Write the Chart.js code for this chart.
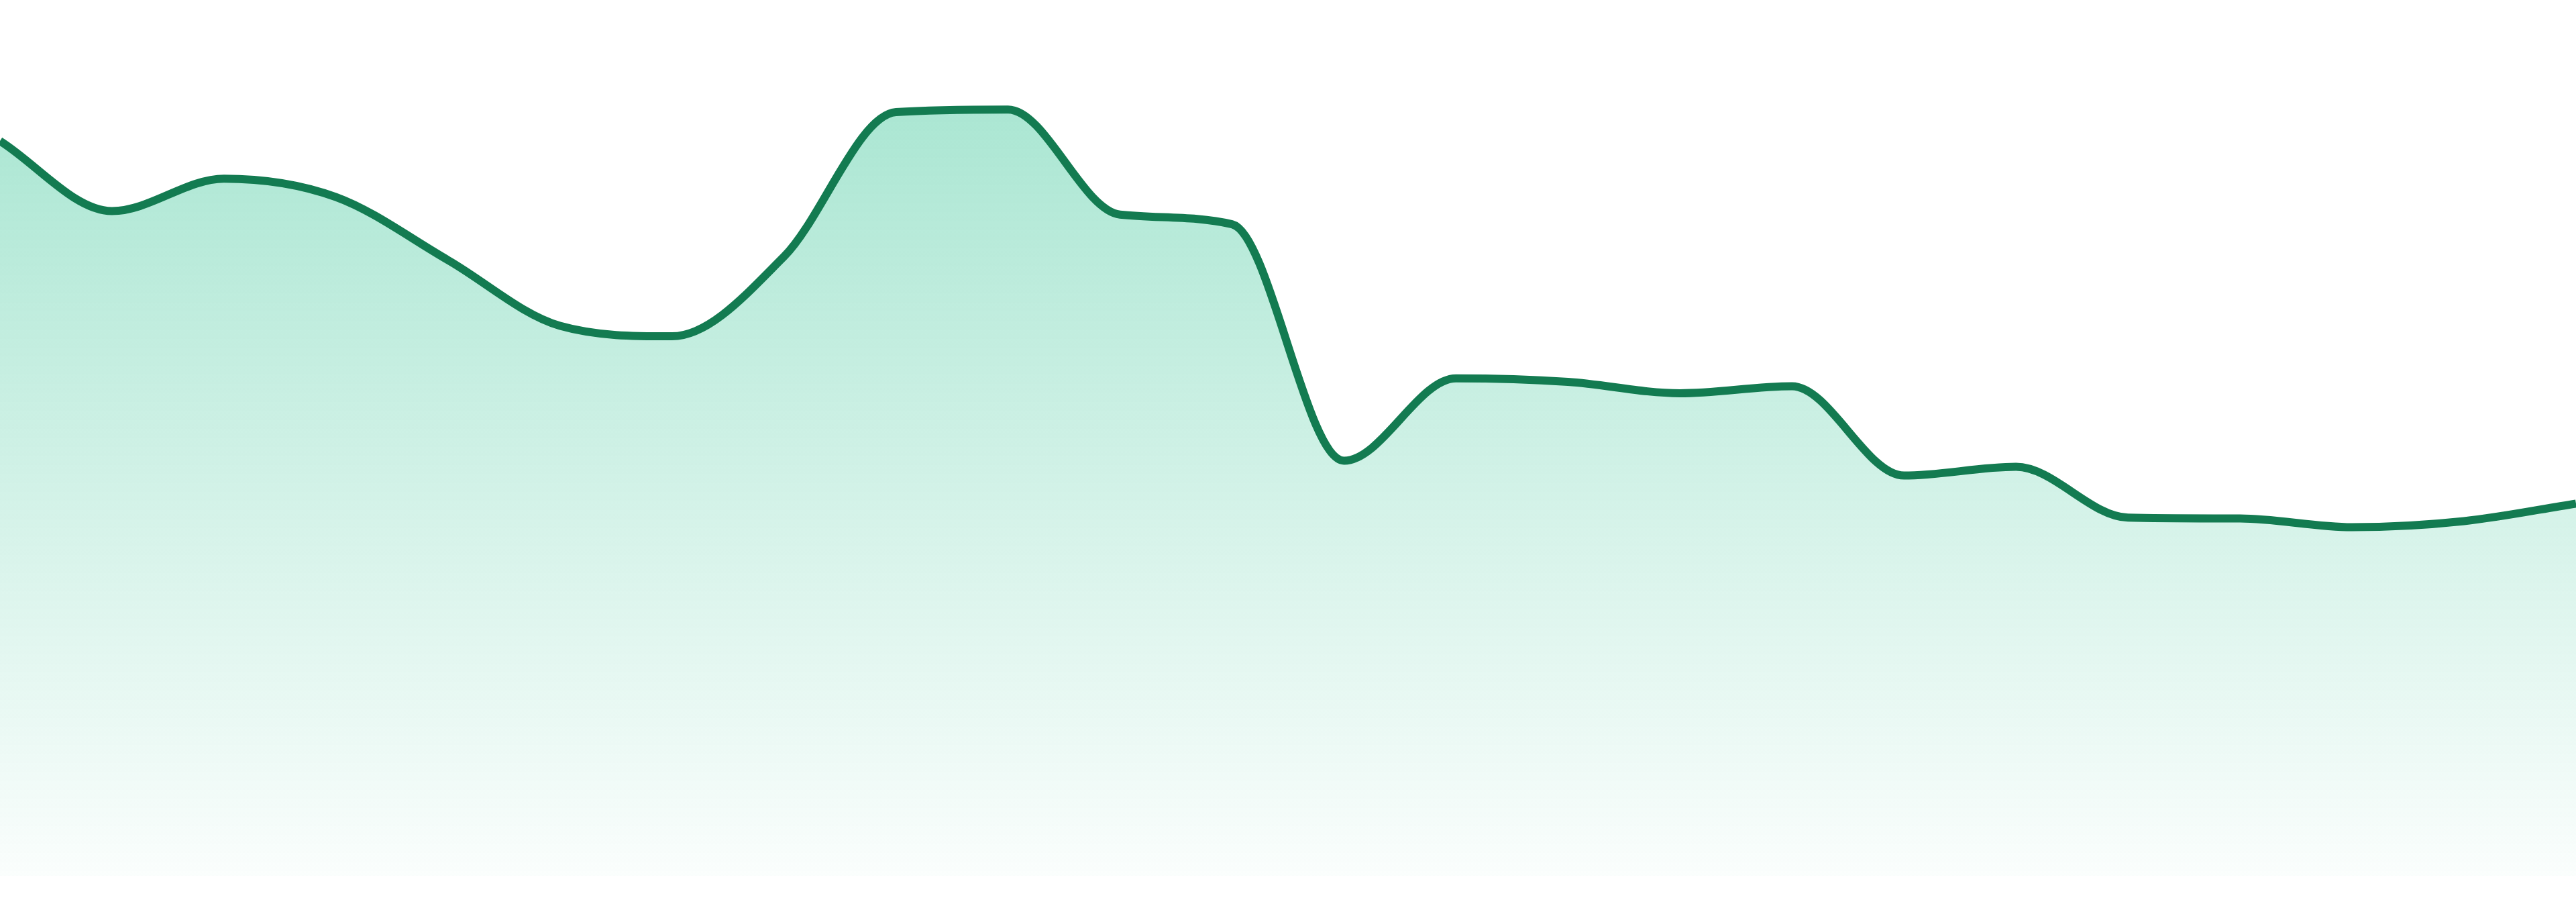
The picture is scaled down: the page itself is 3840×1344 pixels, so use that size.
<!DOCTYPE html>
<html>
<head>
<meta charset="utf-8">
<script src="https://cdn.jsdelivr.net/npm/chart.js@4/dist/chart.umd.min.js"></script>
<style>
  html, body { margin: 0; padding: 0; background: #ffffff; }
  #chart-container { width: 3840px; height: 1344px; }
</style>
</head>
<body>
<div id="chart-container"><canvas id="trendChart"></canvas></div>
<script>
// data (no axis shown, values on a 0-100 scale)
const labels = [
  "1", "2", "3", "4", "5", "6", "7", "8", "9", "10", "11", "12",
  "13", "14", "15", "16", "17", "18", "19", "20", "21", "22", "23", "24",
];
const values = [
  83.9, 75.9, 79.6, 77.5, 70.3, 62.8, 61.6, 70.7, 87.2, 87.5, 75.5, 74.4,
  47.4, 56.8, 56.4, 55.1, 55.9, 45.7, 46.7, 40.9, 40.8, 39.8, 40.5, 42.5,
];
const yMin = 0;
const yMax = 100;

// gradient fill under the line
function fillGradient(context) {
  const chart = context.chart;
  const area = chart.chartArea;
  if (!area) return "rgba(16, 185, 129, 0.3)";
  const g = chart.ctx.createLinearGradient(0, area.top, 0, area.bottom);
  g.addColorStop(0, "rgba(16, 185, 129, 0.40)");
  g.addColorStop(1, "rgba(16, 185, 129, 0.02)");
  return g;
}

const ctx = document.getElementById("trendChart").getContext("2d");

new Chart(ctx, {
  type: "line",
  data: {
    labels: labels,
    datasets: [
      {
        data: values,
        borderColor: "#137b51",
        borderWidth: 12,
        backgroundColor: fillGradient,
        fill: "origin",
        cubicInterpolationMode: "monotone",
        pointRadius: 0,
        pointHoverRadius: 0,
      },
    ],
  },
  options: {
    responsive: true,
    maintainAspectRatio: false,
    devicePixelRatio: 1,
    animation: false,
    layout: {
      padding: { top: 0, right: 0, bottom: 39, left: 0 },
    },
    scales: {
      x: { display: false, offset: false },
      y: { display: false, min: yMin, max: yMax },
    },
    plugins: {
      legend: { display: false },
      tooltip: { enabled: false },
    },
  },
});
</script>
</body>
</html>
